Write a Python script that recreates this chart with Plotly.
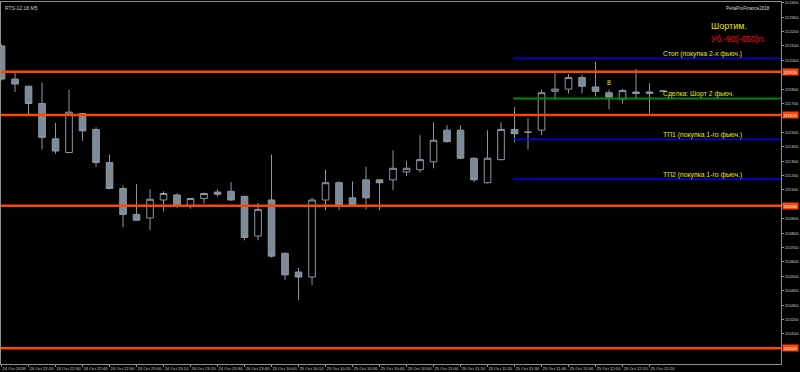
import plotly.graph_objects as go

# ---- data (RTS-12.18, M5) ----
bar_index = list(range(50))
opens  = [112100,111870,111820,111700,111455,111360,111630,111520,111290,111110,
          110930,110905,111030,111065,110990,111040,111085,111090,111055,110780,
          111030,110660,110530,110495,111030,111150,111045,111170,111170,111170,
          111225,111240,111295,111515,111515,111320,111150,111310,111520,111500,
          111515,111785,111800,111880,111815,111775,111730,111780,111770,111785]
highs  = [112110,111915,111825,111845,111565,111795,111635,111535,111345,111130,
          111140,111105,111090,111075,111045,111080,111105,111155,111060,111010,
          111345,110665,110560,111045,111240,111160,111160,111260,111175,111375,
          111300,111480,111570,111550,111550,111325,111515,111570,111675,111600,
          111795,111910,111905,111900,111990,111795,111800,111940,111840,111795]
lows   = [111860,111780,111620,111380,111350,111355,111440,111260,111105,110840,
          110885,110820,110950,110975,110970,111005,111055,111025,110750,110750,
          110630,110475,110335,110440,110960,110960,110990,110965,110960,111100,
          111195,111220,111250,111430,111315,111155,111145,111305,111430,111380,
          111480,111725,111770,111770,111750,111660,111700,111730,111630,111780]
closes = [111870,111835,111700,111465,111370,111640,111510,111290,111110,110930,
          110890,111035,111075,110985,111040,111075,111070,111030,110770,110965,
          110640,110510,110495,111030,111150,110995,110995,111045,111150,111250,
          111250,111310,111445,111435,111320,111170,111320,111520,111490,111501,
          111775,111800,111880,111820,111785,111745,111790,111770,111780,111786]

xtick_index = list(range(0, 50, 2))
xtick_labels = ["24 Oct 2018", "24 Oct 22:20", "24 Oct 22:30", "24 Oct 22:40", "24 Oct 22:50",
                "24 Oct 23:00", "24 Oct 23:10", "24 Oct 23:20", "24 Oct 23:30", "24 Oct 23:40",
                "25 Oct 10:00", "25 Oct 10:10", "25 Oct 10:20", "25 Oct 10:30", "25 Oct 10:40",
                "25 Oct 10:50", "25 Oct 11:00", "25 Oct 11:10", "25 Oct 11:20", "25 Oct 11:30",
                "25 Oct 11:40", "25 Oct 11:50", "25 Oct 12:00", "25 Oct 12:10", "25 Oct 12:20"]

ytick_values = list(range(110100, 112401, 100))

level_prices = [111920, 111620, 110990, 110000]          # orange support/resistance
trade_line_start = 37.9
blue_prices = [112015, 111450, 111175]                   # stop, TP1, TP2
green_price = 111735                                     # entry
blue_texts = ["Стоп (покупка 2-х фьюч.)", "ТП1 (покупка 1-го фьюч.)", "ТП2 (покупка 1-го фьюч.)"]
blue_text_prices = [112044, 111481, 111204]
green_text = "Сделка: Шорт 2 фьюч."
green_text_price = 111766

X_RANGE = [-0.04, 57.74]
Y_RANGE = [109891, 112405]

GRAY_FILL = "#7d8a97"
GRAY_LINE = "#8d99a5"
YELLOW = "#e6e600"
FONT = "Liberation Sans, Arial"

# y tick labels hidden behind the orange level boxes (as in the original terminal)
hidden_ticks = [111900, 111600, 111000, 110000]
ytick_text = ["" if v in hidden_ticks else str(v) for v in ytick_values]

fig = go.Figure()
fig.add_trace(go.Candlestick(
    x=bar_index, open=opens, high=highs, low=lows, close=closes,
    increasing=dict(fillcolor="#000000", line=dict(color=GRAY_LINE, width=1)),
    decreasing=dict(fillcolor=GRAY_FILL, line=dict(color=GRAY_LINE, width=1)),
    whiskerwidth=0, hoverinfo="skip", showlegend=False,
))

shapes = []
for p in level_prices:
    shapes.append(dict(type="line", xref="x", yref="y", x0=X_RANGE[0], x1=X_RANGE[1],
                       y0=p, y1=p, line=dict(color="#ff4500", width=2.5), layer="above"))
for p in blue_prices:
    shapes.append(dict(type="line", xref="x", yref="y", x0=trade_line_start, x1=X_RANGE[1],
                       y0=p, y1=p, line=dict(color="#0000ff", width=1.5), layer="above"))
shapes.append(dict(type="line", xref="x", yref="y", x0=trade_line_start, x1=X_RANGE[1],
                   y0=green_price, y1=green_price, line=dict(color="#008c00", width=2), layer="above"))

annotations = []
for t, p in zip(blue_texts, blue_text_prices):
    annotations.append(dict(x=48.85, y=p, xref="x", yref="y", text=t, showarrow=False,
                            xanchor="left", yanchor="middle",
                            font=dict(family=FONT, size=6.8, color=YELLOW)))
annotations.append(dict(x=48.85, y=green_text_price, xref="x", yref="y", text=green_text, showarrow=False,
                        xanchor="left", yanchor="middle",
                        font=dict(family=FONT, size=6.8, color=YELLOW)))
annotations.append(dict(x=52.4, y=112238, xref="x", yref="y", text="Шортим.", showarrow=False,
                        xanchor="left", yanchor="middle",
                        font=dict(family=FONT, size=9, color=YELLOW)))
annotations.append(dict(x=52.4, y=112148, xref="x", yref="y", text="Уб.-90(-650)п.", showarrow=False,
                        xanchor="left", yanchor="middle",
                        font=dict(family=FONT, size=8.5, color="#ff0000")))
annotations.append(dict(x=45, y=111843, xref="x", yref="y", text="8", showarrow=False,
                        xanchor="center", yanchor="middle",
                        font=dict(family=FONT, size=7, color=YELLOW)))
for p in level_prices:
    annotations.append(dict(x=1, y=p, xref="paper", yref="y", text=str(p), showarrow=False,
                            xanchor="left", yanchor="middle", xshift=1,
                            bgcolor="#ff4500", borderpad=0.5,
                            font=dict(family=FONT, size=4.2, color="#ffffff")))
annotations.append(dict(x=0, y=1, xref="paper", yref="paper", text="RTS-12.18,M5", showarrow=False,
                        xanchor="left", yanchor="top", xshift=2, yshift=-1,
                        font=dict(family=FONT, size=5, color="#c8c8c8")))
annotations.append(dict(x=1, y=1, xref="paper", yref="paper", text="PeltaProFinance2018", showarrow=False,
                        xanchor="right", yanchor="top", xshift=-9, yshift=-2,
                        font=dict(family=FONT, size=4.5, color="#d8d8d8")))

fig.update_layout(
    width=800, height=372,
    margin=dict(l=1, r=19, t=2, b=8, autoexpand=False),
    paper_bgcolor="#000000", plot_bgcolor="#000000",
    shapes=shapes, annotations=annotations,
    showlegend=False,
    xaxis=dict(range=X_RANGE, rangeslider=dict(visible=False), showgrid=False, zeroline=False,
               automargin=False, tickangle=0,
               tickmode="array", tickvals=xtick_index, ticktext=xtick_labels,
               ticklabelposition="outside right", ticks="outside", ticklen=2, tickcolor="#909090",
               tickfont=dict(family=FONT, size=4.2, color="#d0d0d0"),
               showline=True, linecolor="#909090", linewidth=1, mirror=True),
    yaxis=dict(range=Y_RANGE, side="right", showgrid=False, zeroline=False,
               automargin=False,
               tickmode="array", tickvals=ytick_values, ticktext=ytick_text,
               ticks="outside", ticklen=2, tickcolor="#909090",
               tickfont=dict(family=FONT, size=4.2, color="#d0d0d0"),
               showline=True, linecolor="#909090", linewidth=1, mirror=True),
)

fig.write_html("out.html")
